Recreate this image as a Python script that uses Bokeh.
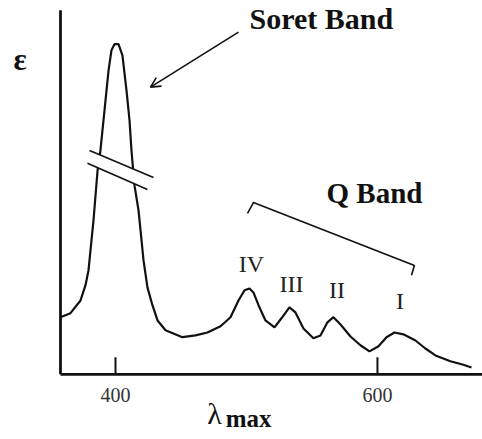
from bokeh.plotting import figure
from bokeh.models import Range1d, Label, Arrow, OpenHead
from bokeh.embed import file_html
from bokeh.resources import INLINE

# Absorption spectrum (wavelength nm, relative epsilon; Soret part shown compressed by axis break)
wavelength = [358.0, 365.6, 373.3, 377.1, 379.4, 383.2, 386.3, 388.5, 391.6, 394.7, 396.9,
              399.2, 402.3, 405.3, 408.4, 410.7, 412.2, 414.5, 417.6, 419.1, 421.4, 424.4,
              428.2, 432.1, 438.2, 451.1, 461.1, 470.2, 480.2, 487.8, 493.9, 498.5, 502.3,
              505.3, 509.2, 514.5, 521.4, 526.7, 532.8, 537.4, 543.5, 551.1, 556.5, 561.8,
              566.4, 571.8, 579.4, 587.0, 593.9, 600.8, 606.9, 613.0, 619.8, 629.0, 636.6,
              644.3, 655.7, 664.9, 671.8]
epsilon = [15.7, 16.8, 20.3, 24.5, 28.6, 42.3, 56.0, 61.5, 72.5, 83.5, 89.0,
           90.7, 90.7, 87.6, 78.0, 69.8, 61.5, 51.9, 45.0, 39.6, 31.3, 23.9,
           19.0, 14.8, 12.1, 10.2, 10.7, 11.5, 13.2, 15.7, 20.3, 23.1, 23.6,
           22.5, 19.0, 14.8, 12.9, 15.4, 18.4, 17.0, 12.6, 9.9, 10.7, 14.3,
           15.7, 13.7, 10.4, 8.0, 6.3, 7.7, 10.2, 11.5, 11.0, 9.3, 7.1,
           5.2, 3.6, 2.7, 1.9]

x_ticks = [400, 600]
x_tick_labels = ["400", "600"]

# axis extents (data units)
X_MIN, X_MAX = 358.0, 680.2
Y_MIN, Y_MAX = 0.0, 100.0
TICK_LEN = 4.67

# Q band labels and their positions
q_labels = ["IV", "III", "II", "I"]
q_label_x = [503.8, 534.4, 569.1, 617.2]
q_label_y = [30.2, 24.7, 23.3, 20.1]

# axis break marks (two parallel strokes)
break1_x = [380.2, 429.0]
break1_y = [61.5, 54.1]
break2_x = [378.6, 424.4]
break2_y = [58.0, 50.8]

# Q band bracket
bracket_x = [500.8, 505.3, 628.2, 626.0]
bracket_y = [44.2, 47.2, 29.9, 27.2]

INK = "#111111"
SERIF = "Liberation Serif"

p = figure(width=482, height=439, output_backend="svg", toolbar_location=None,
           x_range=Range1d(312.2, 680.2), y_range=Range1d(-17.9, 102.7),
           x_axis_location=None, y_axis_location=None, min_border=0)
p.outline_line_color = None
p.grid.visible = False
p.background_fill_color = "white"
p.border_fill_color = "white"

# axes drawn as lines
p.line([X_MIN, X_MIN], [Y_MAX, Y_MIN], line_color=INK, line_width=2.8)
p.line([X_MIN, X_MAX], [Y_MIN, Y_MIN], line_color=INK, line_width=2.8)
p.segment(x0=x_ticks, y0=[Y_MIN] * len(x_ticks), x1=x_ticks, y1=[TICK_LEN] * len(x_ticks),
          line_color=INK, line_width=2)
for t, lab in zip(x_ticks, x_tick_labels):
    p.add_layout(Label(x=t, y=-5.8, text=lab, text_font=SERIF, text_font_size="20px",
                       text_color="#333333", text_baseline="alphabetic", text_align="center"))

# spectrum
p.line(wavelength, epsilon, line_color=INK, line_width=2.2)

# axis break: white gap + two strokes
p.patch(break1_x + break2_x[::-1], break1_y + break2_y[::-1], fill_color="white", line_color=None)
p.line(break1_x, break1_y, line_color=INK, line_width=1.6)
p.line(break2_x, break2_y, line_color=INK, line_width=1.6)

# bracket
p.line(bracket_x, bracket_y, line_color=INK, line_width=1.6)

# arrow to Soret band
p.add_layout(Arrow(x_start=493.9, y_start=94.0, x_end=426.7, y_end=78.9,
                   line_color=INK, line_width=1.6,
                   end=OpenHead(size=10, line_color=INK, line_width=1.6)))

p.add_layout(Label(x=502.3, y=97.8, text="Soret Band", text_font=SERIF,
                   text_font_size="30px", text_font_style="bold", text_color=INK,
                   text_baseline="alphabetic", text_align="left"))
p.add_layout(Label(x=561.1, y=49.7, text="Q Band", text_font=SERIF,
                   text_font_size="29px", text_font_style="bold", text_color=INK,
                   text_baseline="alphabetic", text_align="left"))

for lab, lx, ly in zip(q_labels, q_label_x, q_label_y):
    p.add_layout(Label(x=lx, y=ly, text=lab, text_font=SERIF, text_font_size="24px",
                       text_color="#222222", text_baseline="alphabetic", text_align="center"))

# axis titles
p.add_layout(Label(x=327.1, y=86.6, text="ε", text_font=SERIF, text_font_size="31px",
                   text_font_style="bold", text_color=INK, text_baseline="alphabetic",
                   text_align="center"))
p.add_layout(Label(x=475.6, y=-10.7, text="λ", text_font=SERIF, text_font_size="30px",
                   text_color=INK, text_baseline="alphabetic", text_align="center"))
p.add_layout(Label(x=484.2, y=-12.0, text="max", text_font=SERIF, text_font_size="25px",
                   text_font_style="bold", text_color=INK, text_baseline="alphabetic",
                   text_align="left"))

open("out.html", "w").write(file_html(p, INLINE))
